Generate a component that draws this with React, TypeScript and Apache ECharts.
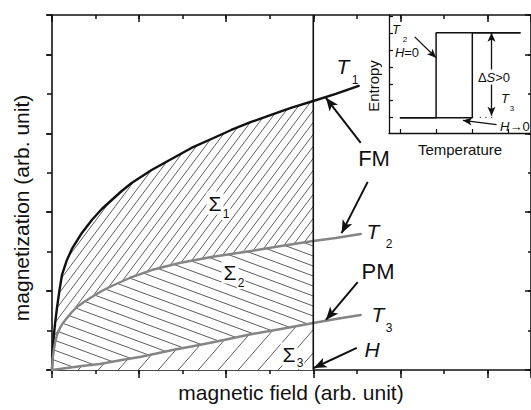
import React, { useEffect, useRef } from 'react';
import * as echarts from 'echarts';

// ---------- data (axis units: one unit = one tick interval) ----------
const T1_CURVE: number[][] = [
  [0, 0], [0.011, 0.38], [0.023, 0.583], [0.046, 0.913], [0.069, 1.166], [0.114, 1.572],
  [0.172, 2.028], [0.229, 2.409], [0.343, 2.789], [0.457, 3.068], [0.686, 3.474], [0.915, 3.803],
  [1.143, 4.082], [1.372, 4.31], [1.601, 4.538], [1.829, 4.741], [2.287, 5.071], [2.744, 5.35],
  [3.201, 5.629], [3.659, 5.857], [4.116, 6.085], [4.574, 6.288], [5.031, 6.466], [5.488, 6.643],
  [6.0, 6.82], [6.517, 6.998], [7.043, 7.201],
];
const T2_CURVE: number[][] = [
  [0, 0], [0.011, 0.228], [0.023, 0.355], [0.046, 0.532], [0.069, 0.685], [0.114, 0.887],
  [0.183, 1.065], [0.252, 1.192], [0.343, 1.318], [0.457, 1.471], [0.572, 1.597], [0.732, 1.724],
  [0.915, 1.851], [1.143, 2.003], [1.372, 2.13], [1.784, 2.333], [2.287, 2.535], [2.927, 2.713],
  [3.659, 2.865], [4.574, 3.017], [5.26, 3.144], [6.0, 3.271], [6.517, 3.347], [7.089, 3.448],
];
const T3_CURVE: number[][] = [
  [0, 0], [0.343, 0.051], [0.686, 0.101], [1.098, 0.152], [1.601, 0.254], [2.012, 0.33],
  [2.401, 0.418], [2.767, 0.507], [3.384, 0.634], [4.002, 0.773], [4.596, 0.913], [5.26, 1.04],
  [6.0, 1.192], [6.517, 1.293], [7.089, 1.395],
];
const FIELD_H = 6; // position of the applied field H
const X_MAX = 11;
const Y_MAX = 9;

// inset: entropy vs temperature
const ENTROPY_T2: number[][] = [[1, 1], [2, 1], [2, 6], [4.33, 6]];
const ENTROPY_T3: number[][] = [[1, 1], [3, 1], [3, 6], [4.33, 6]];
const INSET_X_TICKS = [1, 2, 3, 4];
const INSET_Y_TICKS = [1, 2, 3, 4, 5, 6, 7];

// annotation arrows [from, to] in axis units
const MAIN_ARROWS: number[][][] = [
  [[7.09, 5.76], [6.29, 6.9]],
  [[7.25, 4.77], [6.65, 3.47]],
  [[7.02, 2.23], [6.29, 1.27]],
  [[7.0, 0.56], [6.01, 0.05]],
];
const INSET_ARROWS: number[][][] = [
  [[1.41, 5.76], [2.0, 4.53]],
  [[3.53, 3.6], [3.53, 6.0]],
  [[3.53, 3.6], [3.53, 1.12]],
];
const INSET_CURVED_ARROW: number[][] = [[3.67, 0.59], [2.74, 0.84]];

const FONT = '"Liberation Sans", Arial, Helvetica, sans-serif';

function hatch(w: number, h: number, dir: number, lw = 0.8) {
  const c = document.createElement('canvas');
  c.width = w;
  c.height = h;
  const ctx = c.getContext('2d')!;
  ctx.fillStyle = '#ffffff';
  ctx.fillRect(0, 0, w, h);
  ctx.strokeStyle = '#333333';
  ctx.lineWidth = lw;
  ctx.beginPath();
  for (const k of [-1, 0, 1]) {
    if (dir === 1) {
      ctx.moveTo(k * w - w, 2 * h);
      ctx.lineTo(k * w + 2 * w, -h);
    } else {
      ctx.moveTo(k * w - w, -h);
      ctx.lineTo(k * w + 2 * w, 2 * h);
    }
  }
  ctx.stroke();
  return { image: c.toDataURL(), repeat: 'repeat', imageWidth: w, imageHeight: h };
}

function txt(x: number, y: number, s: string, size: number, extra: any = {}) {
  return {
    type: 'text',
    x,
    y,
    z: 100,
    rotation: extra.rotation || 0,
    style: {
      text: s,
      fontSize: size,
      fontFamily: FONT,
      fontStyle: extra.italic ? 'italic' : 'normal',
      fill: '#111',
      align: 'center',
      verticalAlign: 'middle',
      textAlign: extra.align || 'center',
      textVerticalAlign: 'middle',
      ...(extra.align ? { align: extra.align } : {}),
      ...(extra.bg ? { backgroundColor: '#fff', padding: extra.pad || [1, 2] } : {}),
      ...(extra.rich ? { rich: extra.rich } : {}),
    },
  };
}

const lineCol = '#111';

function mkAxis(position: string, interval: number, len: number, inside: boolean, showLine: boolean, min: number, max: number) {
  return {
    type: 'value',
    gridIndex: 0,
    position,
    min,
    max,
    interval,
    axisLine: { show: showLine, onZero: false, lineStyle: { color: lineCol, width: 1.6 } },
    axisTick: { show: true, inside, length: len, lineStyle: { color: lineCol, width: 1.5 } },
    axisLabel: { show: false },
    splitLine: { show: false },
  };
}

function buildOption() {
  const p1 = hatch(9, 12, 1);
  const p2 = hatch(27, 10, -1);
  const p3 = hatch(20, 23, 1);
  const upTo = (c: number[][]) => c.filter((d) => d[0] <= FIELD_H);

  const areaSeries = (data: number[][], pat: any) => ({
    type: 'line',
    xAxisIndex: 0,
    yAxisIndex: 0,
    data,
    showSymbol: false,
    symbol: 'none',
    silent: true,
    lineStyle: { width: 0, opacity: 0 },
    areaStyle: { color: pat, opacity: 1 },
    z: 2,
  });
  const curve = (data: number[][], color: string) => ({
    type: 'line',
    xAxisIndex: 0,
    yAxisIndex: 0,
    data,
    showSymbol: false,
    symbol: 'none',
    silent: true,
    lineStyle: { color, width: 2.4, join: 'round', cap: 'round' },
    z: 4,
  });
  const arrowLines = (arr: number[][][]) => arr.map((a) => [{ coord: a[0] }, { coord: a[1] }]);
  const italicRich = { i: { fontStyle: 'italic', fontSize: 13, fontFamily: FONT }, n: { fontSize: 13, fontFamily: FONT } };

  return {
    animation: false,
    backgroundColor: '#fff',
    grid: [
      { left: 52, top: 15, right: -2, bottom: 40 },
      { left: 389, top: 15, right: -2, bottom: 277 },
    ],
    xAxis: [
      mkAxis('bottom', 1, 4, false, true, 0, X_MAX),
      mkAxis('bottom', 2, 8, false, false, 0, X_MAX),
      mkAxis('top', 1, 4, true, true, 0, X_MAX),
      mkAxis('top', 2, 7, true, false, 0, X_MAX),
      {
        type: 'value', gridIndex: 1, position: 'bottom', min: 0.7, max: 4.62,
        axisLine: { show: true, onZero: false, lineStyle: { color: lineCol, width: 1.3 } },
        axisTick: { show: true, inside: true, length: 4, customValues: INSET_X_TICKS, lineStyle: { color: lineCol, width: 1.2 } },
        axisLabel: { show: false }, splitLine: { show: false },
      },
    ],
    yAxis: [
      mkAxis('left', 1, 5, false, true, 0, Y_MAX),
      mkAxis('left', 2, 6, false, false, 0, Y_MAX),
      mkAxis('right', 1, 3, true, true, 0, Y_MAX),
      mkAxis('right', 2, 6, true, false, 0, Y_MAX),
      {
        type: 'value', gridIndex: 1, position: 'left', min: 0.1, max: 7.05,
        axisLine: { show: true, onZero: false, lineStyle: { color: lineCol, width: 1.3 } },
        axisTick: { show: true, inside: true, length: 4, customValues: INSET_Y_TICKS, lineStyle: { color: lineCol, width: 1.2 } },
        axisLabel: { show: false }, splitLine: { show: false },
      },
    ],
    series: [
      areaSeries(upTo(T1_CURVE), p1),
      areaSeries(upTo(T2_CURVE), p2),
      areaSeries(upTo(T3_CURVE), p3),
      curve(T1_CURVE, '#111'),
      curve(T2_CURVE, '#858585'),
      curve(T3_CURVE, '#858585'),
      {
        type: 'line',
        xAxisIndex: 0,
        yAxisIndex: 0,
        data: [[FIELD_H, 0], [FIELD_H, Y_MAX]],
        showSymbol: false,
        symbol: 'none',
        silent: true,
        lineStyle: { color: '#111', width: 1.6 },
        z: 5,
        markLine: {
          silent: true,
          symbol: ['none', 'arrow'],
          symbolSize: [8, 13],
          label: { show: false },
          lineStyle: { color: '#111', width: 2, type: 'solid' },
          data: arrowLines(MAIN_ARROWS),
        },
      },
      {
        type: 'line',
        xAxisIndex: 4,
        yAxisIndex: 4,
        data: ENTROPY_T3,
        showSymbol: false,
        symbol: 'none',
        silent: true,
        lineStyle: { color: '#111', width: 1.5 },
        z: 5,
      },
      {
        type: 'line',
        xAxisIndex: 4,
        yAxisIndex: 4,
        data: ENTROPY_T2,
        showSymbol: false,
        symbol: 'none',
        silent: true,
        lineStyle: { color: '#111', width: 1.5 },
        z: 5,
        markLine: {
          silent: true,
          symbol: ['none', 'arrow'],
          symbolSize: [6, 9],
          label: { show: false },
          lineStyle: { color: '#111', width: 1.3, type: 'solid' },
          data: [
            ...arrowLines(INSET_ARROWS),
            [
              { coord: INSET_CURVED_ARROW[0], lineStyle: { curveness: -0.45 } },
              { coord: INSET_CURVED_ARROW[1] },
            ],
          ],
        },
      },
    ],
    graphic: [
      txt(291, 392, 'magnetic field (arb. unit)', 21),
      txt(21, 208, 'magnetization (arb. unit)', 21, { rotation: Math.PI / 2 }),
      txt(343, 66, 'T', 21, { italic: true }),
      txt(355, 80, '1', 12),
      txt(373, 231, 'T', 21, { italic: true }),
      txt(389, 244, '2', 12),
      txt(378, 314, 'T', 21, { italic: true }),
      txt(389, 328, '3', 12),
      txt(372, 349, 'H', 21, { italic: true }),
      txt(374, 158, 'FM', 22),
      txt(378, 271, 'PM', 22),
      txt(215, 203, 'Σ', 21, { bg: true }),
      txt(226, 214, '1', 12, { bg: true, pad: [0, 1] }),
      txt(230, 272, 'Σ', 21, { bg: true }),
      txt(241, 283, '2', 12, { bg: true, pad: [0, 1] }),
      txt(289, 354, 'Σ', 21, { bg: true }),
      txt(300, 363, '3', 12, { bg: true, pad: [0, 1] }),
      // inset
      txt(373, 86, 'Entropy', 15, { rotation: Math.PI / 2 }),
      txt(460, 149, 'Temperature', 15),
      txt(396, 29, 'T', 13, { italic: true }),
      txt(405, 39, '2', 8),
      txt(407, 52, '{i|H}{n|=0}', 13, { rich: italicRich }),
      txt(494, 77, '{n|Δ}{i|S}{n|>0}', 13, { bg: true, pad: [1, 0], rich: italicRich }),
      txt(505, 98, 'T', 13, { italic: true }),
      txt(512, 108, '3', 8),
      txt(486, 114, '. . .', 10),
      txt(500, 126, '{i|H}{n|→0}', 13, { align: 'left', rich: italicRich }),
    ],
  };
}

export default function App() {
  const ref = useRef<HTMLDivElement>(null);
  useEffect(() => {
    const el = ref.current;
    if (!el) return;
    const chart = echarts.init(el, null, { renderer: 'svg' });
    chart.setOption(buildOption() as any);
    return () => chart.dispose();
  }, []);
  return (
    <div
      ref={ref}
      style={{ position: 'absolute', left: 0, top: 0, width: 531, height: 410, background: '#fff' }}
    />
  );
}
